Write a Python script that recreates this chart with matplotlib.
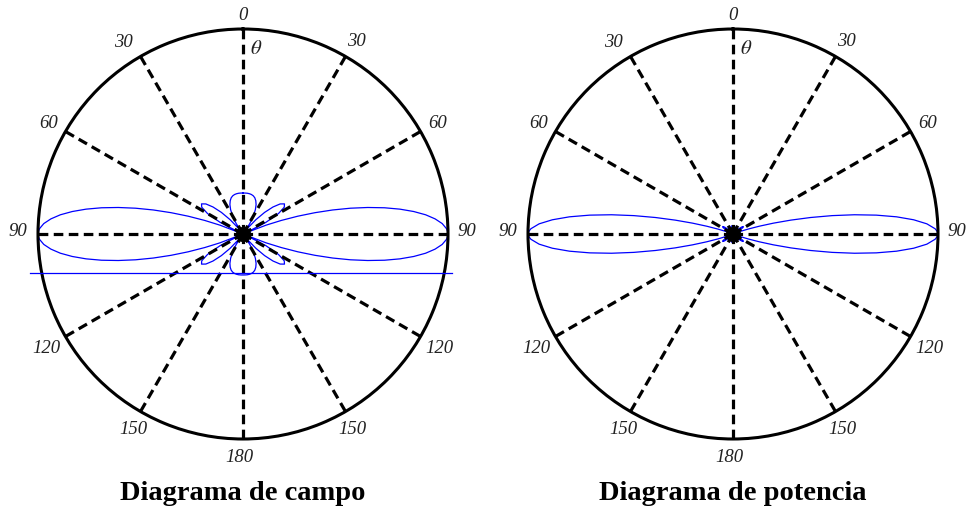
import numpy as np
import matplotlib

matplotlib.use("Agg")
import matplotlib.pyplot as plt

# pattern samples for 0..90 deg from the array axis; the pattern is
# symmetric about 90 deg and about the axis, so the rest is mirrored
angles = [0, 3, 6, 9, 12, 15, 18, 21, 24, 27, 30, 33, 36, 36.9, 39, 42, 45,
          48, 51, 54, 57, 60, 63, 66, 66.4, 69, 70.5, 72, 73.5, 75, 76.5,
          78, 79.5, 81, 82.5, 84, 85.5, 87, 88.5, 89.25, 90]
field = [0.200, 0.200, 0.200, 0.199, 0.197, 0.193, 0.186, 0.174, 0.157,
         0.133, 0.101, 0.062, 0.015, 0.000, 0.038, 0.094, 0.149, 0.197,
         0.233, 0.250, 0.240, 0.200, 0.126, 0.018, 0.000, 0.120, 0.198,
         0.281, 0.366, 0.453, 0.539, 0.622, 0.702, 0.775, 0.840, 0.896,
         0.940, 0.973, 0.993, 0.998, 1.000]
power = [0.040, 0.040, 0.040, 0.040, 0.039, 0.037, 0.035, 0.030, 0.025,
         0.018, 0.010, 0.004, 0.000, 0.000, 0.001, 0.009, 0.022, 0.039,
         0.054, 0.062, 0.058, 0.040, 0.016, 0.000, 0.000, 0.014, 0.039,
         0.079, 0.134, 0.205, 0.290, 0.387, 0.492, 0.600, 0.705, 0.802,
         0.884, 0.947, 0.986, 0.996, 1.000]

spoke_angles = [0, 30, 60, 90, 120, 150, 180, 210, 240, 270, 300, 330]
tick_labels = ["0", "30", "60", "90", "120", "150", "180",
               "150", "120", "90", "60", "30"]
# label offsets from the rim point, pixels (x right, y down)
label_offsets = [(0, -14), (11, -15), (17, -8.5), (19, -2), (19, 12),
                 (7, 18), (-4, 19), (-7, 18), (-19, 12), (-20, -2),
                 (-17, -8.5), (-17, -14)]

# horizontal reference line drawn across the field diagram
ref_line_x = [-1.04, 1.02]
ref_line_y = [-0.19, -0.19]

titles = ["Diagrama de campo", "Diagrama de potencia"]


def full_pattern(deg, vals):
    deg = np.asarray(deg, dtype=float)
    vals = np.asarray(vals, dtype=float)
    th = np.concatenate([deg, 180 - deg[::-1], 180 + deg, 360 - deg[::-1]])
    r = np.concatenate([vals, vals[::-1], vals, vals[::-1]])
    return np.radians(th), r


W, H = 968, 520
fig = plt.figure(figsize=(W / 100, H / 100), dpi=100)
serif = ["Liberation Serif", "DejaVu Serif"]

centres = [(243, 234), (733, 234)]
R = 205
for (cx, cy), vals, title in zip(centres, [field, power], titles):
    rect = [(cx - R) / W, (H - cy - R) / H, 2 * R / W, 2 * R / H]
    ax = fig.add_axes(rect, projection="polar")
    ax.set_theta_zero_location("N")
    ax.set_theta_direction(-1)
    ax.set_ylim(0, 1)
    ax.grid(False)
    ax.set_xticks([])
    ax.set_yticks([])
    ax.spines["polar"].set_linewidth(2.2)
    ax.spines["polar"].set_color("black")

    th, r = full_pattern(angles, vals)
    ax.plot(th, r, color="#0000ff", linewidth=0.9, zorder=2)

    for a in spoke_angles:
        t = np.radians(a)
        ax.plot([t, t], [0, 1], color="black", linewidth=2.3,
                linestyle=(0, (3, 1.7)), dash_capstyle="butt", zorder=3)
    # dashes pile up at the pole into a solid hub
    ax.plot([0], [0], marker="o", markersize=10, color="black", zorder=3)

    for a, lab, (dx, dy) in zip(spoke_angles, tick_labels, label_offsets):
        ax.annotate(lab, xy=(np.radians(a), 1), xycoords="data",
                    xytext=(dx * 0.72, -dy * 0.72), textcoords="offset points",
                    ha="center", va="center", fontsize=13.5, style="italic",
                    family=serif, color="#222222", annotation_clip=False)

    ax.text(0.533, 0.953, r"$\theta$", transform=ax.transAxes, ha="center",
            va="center", fontsize=15, color="#222222",
            math_fontfamily="stix")

    fig.text(cx / W, 1 - 493 / H, title, ha="center", va="center",
             fontsize=20.5, fontweight="bold", family=serif)

# cartesian overlay on the field diagram for the straight reference line
cx, cy = centres[0]
ov = fig.add_axes([(cx - R) / W, (H - cy - R) / H, 2 * R / W, 2 * R / H])
ov.set_xlim(-1, 1)
ov.set_ylim(-1, 1)
ov.axis("off")
ov.plot(ref_line_x, ref_line_y, color="#0000ff", linewidth=0.9, clip_on=False)

fig.savefig("out.png", dpi=100)
